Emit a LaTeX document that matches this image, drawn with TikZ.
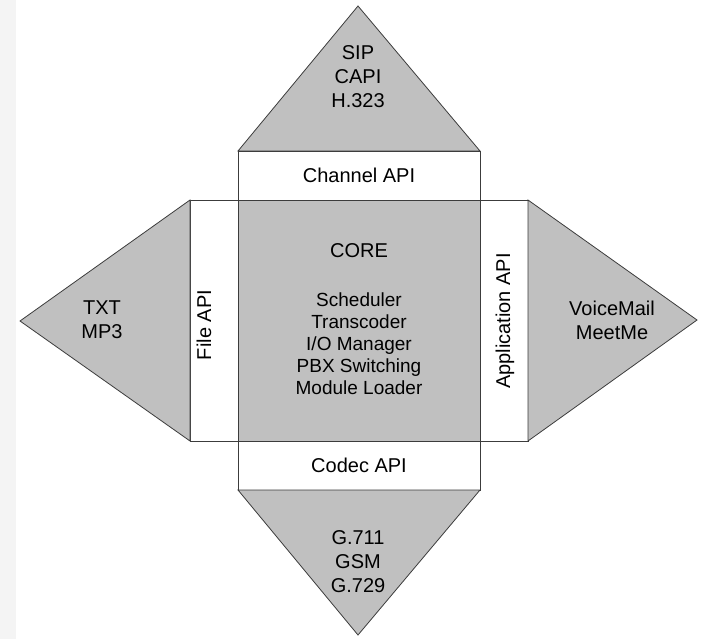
\documentclass[tikz,border=0pt]{standalone}
\usepackage{fontspec}
\setmainfont{Liberation Sans}
\usetikzlibrary{positioning}
\definecolor{partgray}{RGB}{192,192,192}
\definecolor{edgegray}{RGB}{60,60,60}
\definecolor{stripgray}{RGB}{244,244,244}

\begin{document}
\begin{tikzpicture}[x=1pt,y=-1pt]
  \tikzset{apibox/.style = {shape=rectangle,draw=edgegray,fill=white,inner sep=0pt,outer sep=0pt,line width=0.8pt,font=\fontsize{20}{24}\selectfont}}
  \tikzset{corebox/.style = {shape=rectangle,draw=edgegray,fill=partgray,inner sep=0pt,outer sep=0pt,line width=0.8pt}}
  \tikzset{sidetri/.style = {draw=edgegray,fill=partgray,line width=0.8pt,line join=miter}}
  \tikzset{txt/.style = {align=center,inner sep=0pt,font=\fontsize{20}{24}\selectfont}}
  \useasboundingbox (0,0) rectangle (706,639);
  \fill[stripgray] (0,0) rectangle (16,639);

	\node[corebox, minimum width=242pt, minimum height=241pt] (core) at (359,320.5) {};
	\node[apibox, minimum width=242pt, minimum height=49pt, above=0pt of core] (chan) {Channel API};
	\node[apibox, minimum width=242pt, minimum height=49pt, below=0pt of core] (codec) {Codec API};
	\node[apibox, minimum width=48pt, minimum height=241pt, left=0pt of core] (file) {};
	\node[apibox, minimum width=48pt, minimum height=241pt, right=0pt of core] (app) {};

	\coordinate (sipapex) at (358,6);
	\coordinate (txtapex) at (20,321);
	\coordinate (vmapex) at (697,320);
	\coordinate (codecapex) at (358,635);

	\draw[sidetri] (chan.north west) -- (sipapex) -- (chan.north east) -- cycle;
	\draw[sidetri] (file.north west) -- (txtapex) -- (file.south west) -- cycle;
	\draw[sidetri] (app.north east) -- (vmapex) -- (app.south east) -- cycle;
	\draw[sidetri] (codec.south west) -- (codecapex) -- (codec.south east) -- cycle;

	\node[txt, rotate=90] (filename) at (204,325) {File API};
	\node[txt, rotate=90] (appname) at (505,321) {Application API};

	\node[txt] (corename) at (359,251) {CORE};
	\node[txt, font=\fontsize{19}{22}\selectfont] (corelist) at (359,344) {Scheduler\\Transcoder\\I/O Manager\\PBX Switching\\Module Loader};

	\node[txt] (sipnames) at (358,77) {SIP\\CAPI\\H.323};
	\node[txt] (filenames) at (102,320) {TXT\\MP3};
	\node[txt] (appnames) at (612,320) {VoiceMail\\MeetMe};
	\node[txt] (codecnames) at (358,562) {G.711\\GSM\\G.729};

\end{tikzpicture}
\end{document}
